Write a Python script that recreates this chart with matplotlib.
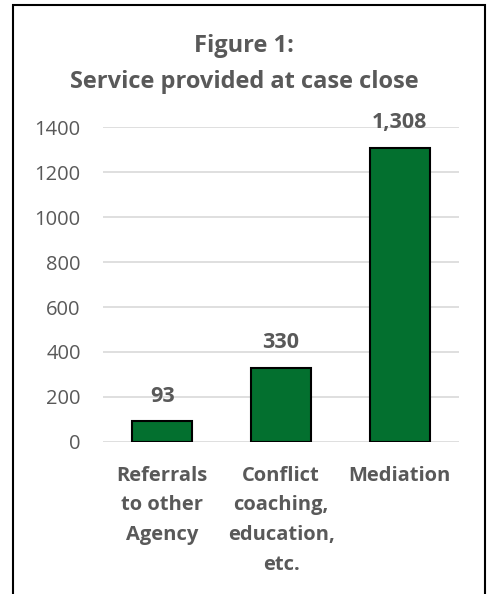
import matplotlib.pyplot as plt
from matplotlib.patches import Rectangle

categories = ["Referrals\nto other\nAgency", "Conflict\ncoaching,\neducation,\netc.", "Mediation"]
values = [93, 330, 1308]
value_labels = ["93", "330", "1,308"]
yticks = [0, 200, 400, 600, 800, 1000, 1200, 1400]

plt.rcParams['font.family'] = ['Open Sans', 'DejaVu Sans']
grey = '#595959'
green = '#03702F'

fig = plt.figure(figsize=(4.88, 5.94), dpi=100)
ax = fig.add_axes([0.211, 0.256, 0.730, 0.530])

x = range(len(values))
bars = ax.bar(x, values, width=0.505, color=green, edgecolor='black', linewidth=1.5, zorder=3)
for b, lab in zip(bars, value_labels):
    ax.annotate(lab, (b.get_x() + b.get_width() / 2, b.get_height()), xytext=(0, 18),
                textcoords='offset points', ha='center', va='center',
                fontsize=15.5, fontweight='bold', color=grey)

ax.set_xlim(-0.5, 2.5)
ax.set_ylim(0, 1400)
ax.set_yticks(yticks)
ax.set_yticklabels([str(t) for t in yticks], fontsize=14.5, color=grey)
ax.set_xticks(list(x))
ax.set_xticklabels(categories, fontsize=14.5, fontweight='bold', color=grey, linespacing=1.66)
ax.tick_params(axis='both', length=0)
ax.tick_params(axis='x', pad=17)
ax.tick_params(axis='y', pad=16)
ax.grid(axis='y', color='#D9D9D9', linewidth=1.2, zorder=0)
for s in ax.spines.values():
    s.set_visible(False)

fig.text(0.5, 0.892, "Figure 1:\nService provided at case close", ha='center', va='center',
         fontsize=17, fontweight='bold', color=grey, linespacing=1.65)

fig.patches.append(Rectangle((13 / 488, -0.05), 472 / 488, 1.042, transform=fig.transFigure,
                             fill=False, edgecolor='black', linewidth=1.5))

fig.savefig("out.png", dpi=100)
